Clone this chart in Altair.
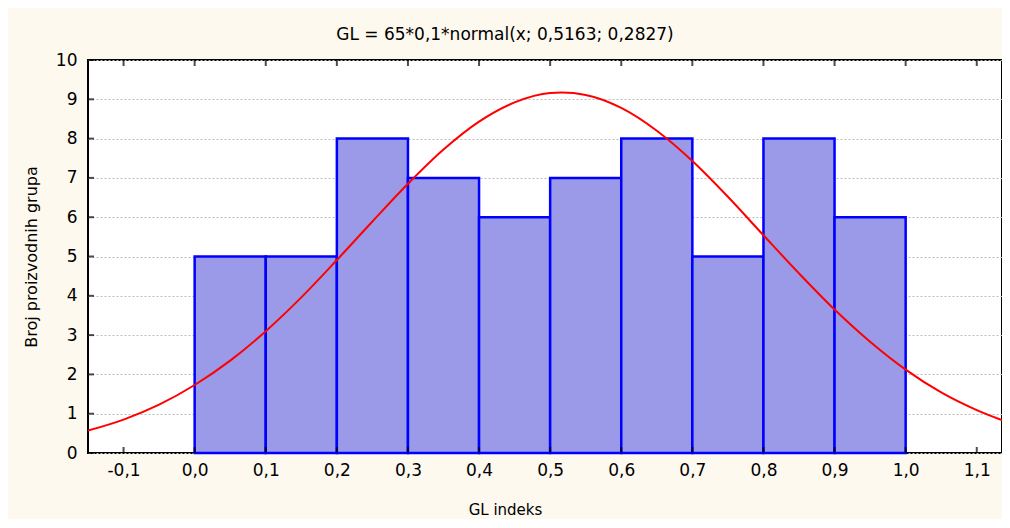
import altair as alt
import pandas as pd

# Histogram bins and counts
bin_start = [0.0, 0.1, 0.2, 0.3, 0.4, 0.5, 0.6, 0.7, 0.8, 0.9]
bin_end = [0.1, 0.2, 0.3, 0.4, 0.5, 0.6, 0.7, 0.8, 0.9, 1.0]
counts = [5, 5, 8, 7, 6, 7, 8, 5, 8, 6]

# Fitted normal curve values
curve_x = [-0.15, -0.10, -0.05, 0.00, 0.05, 0.10, 0.15, 0.20, 0.25, 0.30, 0.35, 0.40,
           0.45, 0.50, 0.5163, 0.55, 0.60, 0.65, 0.70, 0.75, 0.80, 0.85, 0.90, 0.95,
           1.00, 1.05, 1.10, 1.15]
curve_y = [0.57, 0.85, 1.23, 1.73, 2.35, 3.10, 3.96, 4.91, 5.89, 6.85, 7.72, 8.43,
           8.92, 9.16, 9.17, 9.11, 8.78, 8.20, 7.43, 6.52, 5.54, 4.57, 3.65, 2.83,
           2.12, 1.54, 1.09, 0.74]

x_tick_values = [-0.1, 0.0, 0.1, 0.2, 0.3, 0.4, 0.5, 0.6, 0.7, 0.8, 0.9, 1.0, 1.1]
y_tick_values = [0, 1, 2, 3, 4, 5, 6, 7, 8, 9, 10]

title_text = "GL = 65*0,1*normal(x; 0,5163; 0,2827)"
x_title = "GL indeks"
y_title = "Broj proizvodnih grupa"

bars_df = pd.DataFrame({"start": bin_start, "end": bin_end, "count": counts,
                        "base": [0] * len(counts)})
curve_df = pd.DataFrame({"x": curve_x, "y": curve_y})
xt_df = pd.DataFrame({"v": x_tick_values})
yt_df = pd.DataFrame({"v": y_tick_values})

W, H = 914, 393
FONT = "DejaVu Sans"

xscale = alt.Scale(domain=[-0.15, 1.1355], nice=False, zero=False)
yscale = alt.Scale(domain=[0, 10], nice=False)

label_expr = "replace(replace(format(datum.value, '.1f'), '.', ','), '\u2212', '-')"

x_axis = alt.Axis(values=x_tick_values, labelExpr=label_expr, title=x_title,
                  grid=False, ticks=False, domain=False, labelPadding=9,
                  labelOverlap=False, titleX=417, titlePadding=24, titleFontSize=15)
y_axis = alt.Axis(values=y_tick_values, title=y_title, grid=True,
                  gridDash=[2, 2], gridColor="#bdbdbd", gridWidth=1,
                  ticks=False, domain=False, labelPadding=11, labelOverlap=False,
                  titlePadding=16, titleFontSize=16)

bars = alt.Chart(bars_df).mark_rect(
    fill="#9a9ae8", stroke="#0000ff", strokeWidth=2.5
).encode(
    x=alt.X("start:Q", scale=xscale, axis=x_axis),
    x2="end:Q",
    y=alt.Y("count:Q", scale=yscale, axis=y_axis),
    y2="base:Q",
)

curve = alt.Chart(curve_df).mark_line(
    color="#ff0000", strokeWidth=2, interpolate="monotone", clip=True
).encode(
    x=alt.X("x:Q", scale=xscale, axis=x_axis, title=x_title),
    y=alt.Y("y:Q", scale=yscale, axis=y_axis, title=y_title),
)

tick_style = dict(color="black", thickness=2, size=6)
bottom_ticks = alt.Chart(xt_df).mark_tick(orient="vertical", **tick_style).encode(
    x=alt.X("v:Q", scale=xscale, axis=x_axis, title=x_title), y=alt.value(H - 3))
top_ticks = alt.Chart(xt_df).mark_tick(orient="vertical", **tick_style).encode(
    x=alt.X("v:Q", scale=xscale, axis=x_axis, title=x_title), y=alt.value(3))
left_ticks = alt.Chart(yt_df).mark_tick(orient="horizontal", **tick_style).encode(
    y=alt.Y("v:Q", scale=yscale, axis=y_axis, title=y_title), x=alt.value(3))

chart = alt.layer(
    bars, curve, bottom_ticks, top_ticks, left_ticks
).properties(
    width=W,
    height=H,
    autosize=alt.AutoSizeParams(type="none"),
    padding={"left": 80, "top": 52, "right": 0, "bottom": 66},
    background="#fdf9ef",
    title=alt.Title(title_text, anchor="middle", fontSize=17, fontWeight="normal",
                    font=FONT, color="black", offset=7, dx=-40),
).configure_view(
    stroke="black", strokeWidth=2, fill="white"
).configure_axis(
    labelFont=FONT, labelFontSize=17, labelColor="black", labelOverlap=False,
    titleFont=FONT, titleColor="black", titleFontWeight="normal",
)

chart.save("out.html", embed_options={"renderer": "svg", "actions": False})
